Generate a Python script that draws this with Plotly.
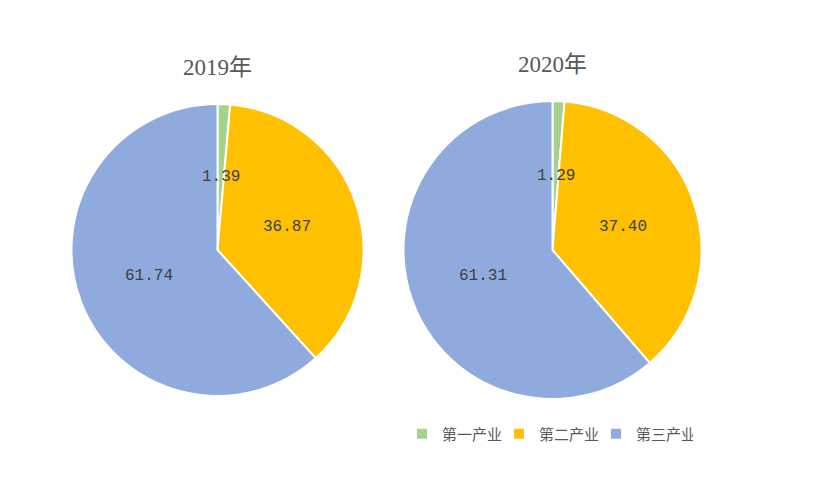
import math
import plotly.graph_objects as go

labels = ['第一产业', '第二产业', '第三产业']
v2019 = [1.39, 36.87, 61.74]
v2020 = [1.29, 37.40, 61.31]
years = ['2019年', '2020年']
colors = ['#A9D18E', '#FFC000', '#8FAADC']

W, H = 818, 491
OFF = 8  # page body margin
# pie centres / radii in pixels (page coords)
pies = [(217.5 - OFF, 250 - OFF, 146), (552.5 - OFF, 250 - OFF, 149)]
title_y = [68 - OFF, 65 - OFF]

fig = go.Figure()
anns = []
for i, (vals, (cx, cy, r)) in enumerate(zip([v2019, v2020], pies)):
    fig.add_trace(go.Pie(
        labels=labels, values=vals, sort=False, direction='clockwise',
        rotation=0, textinfo='none', hoverinfo='label+value',
        marker=dict(colors=colors, line=dict(color='white', width=2)),
        domain=dict(x=[(cx - r) / W, (cx + r) / W],
                    y=[(H - cy - r) / H, (H - cy + r) / H]),
        showlegend=(i == 0),
    ))
    # data labels at half radius, horizontal
    total = sum(vals)
    cum = 0
    for v in vals:
        mid = (cum + v / 2) / total * 2 * math.pi
        cum += v
        px_ = cx + 0.5 * r * math.sin(mid)
        py_ = cy - 0.5 * r * math.cos(mid)
        anns.append(dict(x=px_ / W, y=1 - py_ / H, xref='paper', yref='paper',
                         xanchor='center', yanchor='middle',
                         text=f'{v:.2f}', showarrow=False,
                         font=dict(family='Liberation Mono', size=16, color='#404040')))
    anns.append(dict(x=cx / W, y=1 - title_y[i] / H, xref='paper', yref='paper',
                     xanchor='center', yanchor='middle',
                     text=years[i], showarrow=False,
                     font=dict(family='Liberation Serif, Noto Sans CJK SC', size=23, color='#595959')))

fig.update_layout(
    width=W, height=H,
    margin=dict(l=0, r=0, t=0, b=0),
    paper_bgcolor='white',
    annotations=anns,
    legend=dict(orientation='h', x=(420 - OFF - 18) / W, y=1 - (434 - OFF) / H,
                xanchor='left', yanchor='middle',
                entrywidth=52, entrywidthmode='pixels',
                font=dict(family='Noto Sans CJK SC', size=15, color='#595959')),
)

fig.write_html("out.html")
